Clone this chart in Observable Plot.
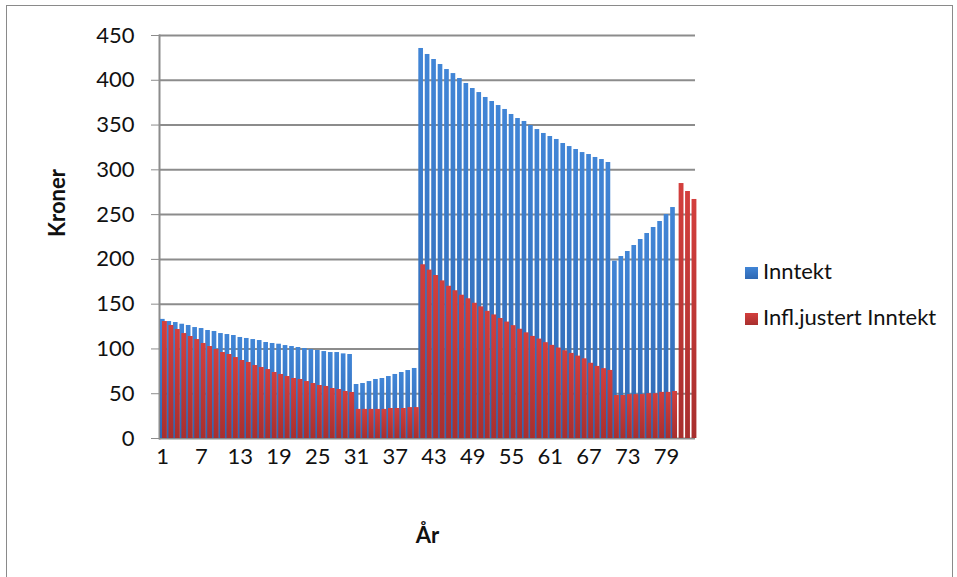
<!DOCTYPE html>
<html>
<head>
<meta charset="utf-8">
<script src="https://cdn.jsdelivr.net/npm/d3@7"></script>
<script src="https://cdn.jsdelivr.net/npm/@observablehq/plot@0.6"></script>
<style>
  html, body { margin: 0; padding: 0; background: #fff; }
  #wrap { position: relative; width: 957px; height: 577px; overflow: hidden; font-family: Lato, "Open Sans", sans-serif; }
  #border { position: absolute; left: 6px; top: 5px; width: 947px; height: 620px; border: 1.5px solid #8a8a8a; box-sizing: border-box; }
  #legend { position: absolute; left: 745px; top: 259px; font-size: 22px; color: #111; }
  .item { position: absolute; white-space: nowrap; height: 24px; line-height: 24px; }
  .sw { display: inline-block; width: 13px; height: 12px; margin-right: 5px; vertical-align: 0px; }
</style>
</head>
<body>
<div id="wrap">
  <div id="chart"></div>
  <div id="border"></div>
  <div id="legend"></div>
</div>
<script>
// ---- data ----
const categories = d3.range(1, 84); // År 1..83
const xTicks = [1, 7, 13, 19, 25, 31, 37, 43, 49, 55, 61, 67, 73, 79];
const yTicks = [0, 50, 100, 150, 200, 250, 300, 350, 400, 450];
const seriesNames = ["Inntekt", "Infl.justert Inntekt"];

const inntekt = [
  133, 130.6, 129.5, 127.6, 126.2, 123.9, 122.8, 120.6, 119.5, 117.2,
  116.1, 115, 112.8, 111.7, 110.5, 109.4, 107.2, 106.1, 105.3, 103.8,
  102.7, 101.6, 100.5, 99.4, 98.3, 97.1, 96, 96, 94.5, 93.8,
  60.3, 61.4, 63.6, 65.9, 67, 69.2, 71.5, 73.7, 75.9, 78.2,
  435.5, 428.8, 423.2, 417.6, 412, 407.5, 402, 396.4, 390.8, 386.3,
  380.8, 376.3, 371.8, 367.4, 361.8, 357.3, 354, 349.5, 345, 340.6,
  337.2, 333.9, 329.4, 326, 322.7, 319.3, 317.1, 313.8, 311.5, 308.2,
  198, 203.2, 208.8, 215.5, 222.2, 228.9, 235.6, 242.3, 250.1, 257.9,
  null, null, null
];
const inflJustert = [
  130.6, 126.2, 121.7, 117.2, 113.9, 110.5, 106.1, 102.7, 99.4, 96,
  93.8, 90.4, 87.1, 84.9, 81.5, 79.3, 77, 73.7, 71.5, 69.2,
  67, 65.9, 63.6, 61.4, 59.2, 58.1, 55.8, 54.7, 52.5, 51.4,
  32.5, 32.5, 32.5, 32.5, 32.5, 33.5, 33.5, 33.5, 34.5, 34.5,
  194, 188, 182, 176, 170, 165, 160, 156, 151, 147,
  142, 138, 134, 130, 126, 122, 118, 114, 111, 107,
  104, 101, 98, 95, 92, 89, 84, 80.5, 78, 76,
  48, 48, 49, 49, 49, 50, 50, 51.5, 51.5, 52.5,
  284.7, 275.8, 266.9
];

const rows = categories.map((c, i) => ({ cat: c, inntekt: inntekt[i], infl: inflJustert[i] }));

const grid = "#8c8c8c";
const chart = Plot.plot({
  width: 957,
  height: 577,
  marginLeft: 159,
  marginRight: 262,
  marginTop: 35,
  marginBottom: 139,
  style: { fontFamily: "Lato, 'Open Sans', sans-serif", fontSize: "22px", color: "#111", background: "transparent" },
  x: { type: "band", domain: categories, padding: 0 },
  y: { domain: [0, 450] },
  marks: [
    Plot.ruleY(yTicks, { stroke: grid, strokeWidth: 2 }),
    Plot.frame({ anchor: "left", stroke: grid, strokeWidth: 2 }),
    Plot.axisY({ ticks: yTicks, tickSize: 8, tickPadding: 17, stroke: grid, label: null, tickFormat: d3.format("d") }),
    Plot.axisX({ ticks: xTicks, tickSize: 0, tickPadding: 10, label: null }),
    Plot.barY(rows.filter(d => d.inntekt != null), { x: "cat", y: "inntekt", fill: "url(#gBlue)", insetLeft: 1, insetRight: 0.8 }),
    Plot.barY(rows, { x: "cat", y: "infl", fill: "url(#gRed)", insetLeft: 1, insetRight: 0.6, dx: 2 }),
    Plot.text(["Kroner"], { frameAnchor: "left", dx: -102, rotate: -90, fontWeight: "bold", fontSize: 22, fill: "#111" }),
    Plot.text(["År"], { frameAnchor: "bottom", dy: 104, fontWeight: "bold", fontSize: 22, fill: "#111" })
  ]
});

// gradients for bar fills
const ns = "http://www.w3.org/2000/svg";
const defs = document.createElementNS(ns, "defs");
defs.innerHTML = `
  <linearGradient id="gBlue" x1="0" y1="0" x2="0" y2="1">
    <stop offset="0" stop-color="#4185d6"/><stop offset="1" stop-color="#2f68b3"/>
  </linearGradient>
  <linearGradient id="gRed" x1="0" y1="0" x2="0" y2="1">
    <stop offset="0" stop-color="#d33f3d"/><stop offset="1" stop-color="#a82f2e"/>
  </linearGradient>`;
chart.insertBefore(defs, chart.firstChild);
document.getElementById("chart").appendChild(chart);

// legend
const legend = document.getElementById("legend");
const fills = ["linear-gradient(#4185d6,#2f68b3)", "linear-gradient(#d33f3d,#a82f2e)"];
seriesNames.forEach((name, i) => {
  const it = document.createElement("div");
  it.className = "item";
  it.style.top = (i * 46) + "px";
  it.innerHTML = `<span class="sw" style="background:${fills[i]}"></span>${name}`;
  legend.appendChild(it);
});
</script>
</body>
</html>
